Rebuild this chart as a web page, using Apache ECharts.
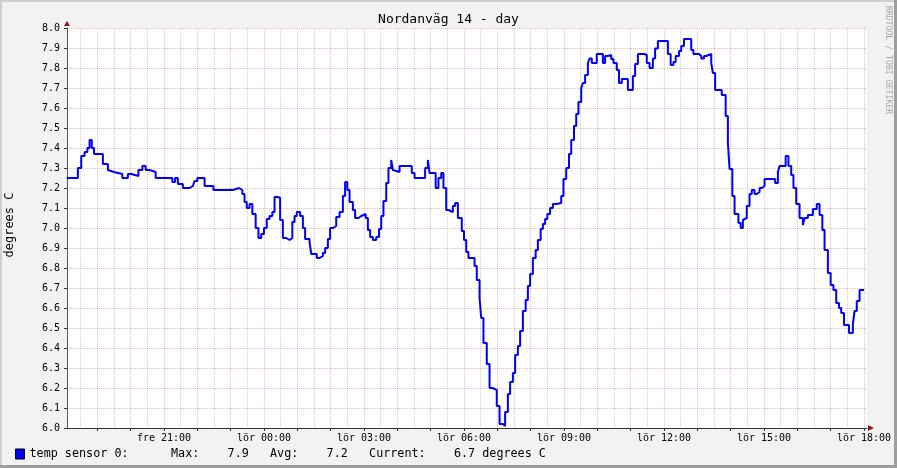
<!DOCTYPE html>
<html><head><meta charset="utf-8">
<script src="https://cdn.jsdelivr.net/npm/echarts@6/dist/echarts.min.js"></script>
<style>html,body{margin:0;padding:0;background:#f2f2f2;}#c{width:897px;height:468px;}</style>
</head><body><div id="c"></div>
<script>
const chartTitle = 'Nordanväg 14 - day';
const seriesName = 'temp sensor 0:';
const legendStats = '      Max:    7.9   Avg:    7.2   Current:    6.7 degrees C';
const yName = 'degrees C';
const watermark = 'RRDTOOL / TOBI OETIKER';
const xTickLabels = ['fre 21:00','lör 00:00','lör 03:00','lör 06:00','lör 09:00','lör 12:00','lör 15:00','lör 18:00'];
// minutes since fre 18:00
const minutes = [5,25,31,37,42,46,50,54,70,79,82,90,105,115,121,134,141,147,154,165,181,184,195,200,205,214,226,232,235,240,253,269,304,315,321,325,329,334,339,345,
350,355,360,365,370,375,379,385,389,394,400,406,411,415,419,425,430,434,442,445,455,460,466,470,475,479,484,490,496,502,506,510,514,520,524,530,535,543,547,551,556,562,567,571,575,580,584,589,592,595,604,626,631,650,655,658,669,674,679,683,688,692,700,704,709,716,720,724,728,739,743,748,751,755,761,766,771,779,784,790,794,799,803,808,812,817,821,826,831,835,839,844,849,853,858,
862,866,870,875,880,886,895,899,904,909,913,918,922,926,931,934,938,943,946,950,959,970,974,979,985,989,995,999,1004,1015,1024,1028,1033,1045,1049,1054,1060,1064,1069,1087,1092,1097,1101,1107,1111,1116,1129,1133,1143,1147,1152,1156,1165,1168,1172,1184,1191,1195,1198,1203,1207,1214,1218,1222,1225,1229,1234,1238,1243,1247,1252,1256,1261,1280,1285,1288,1299,1304,1309,1313,1318,1324,1330,1333,1339,1348,1355,1360,1365,1369,1375,1380,1385,1390,1395,1399,1404,1413,1420,1423,1427,1432,1440];
const temps = [7.25,7.30,7.36,7.38,7.40,7.44,7.40,7.37,7.32,7.29,7.28,7.27,7.25,7.27,7.26,7.29,7.31,7.29,7.28,7.25,7.26,7.25,7.23,7.25,7.22,7.20,7.21,7.20,7.235,7.25,7.21,7.19,7.20,7.19,7.17,7.13,7.10,7.12,7.07,7.00,
6.95,6.97,7.00,7.045,7.06,7.08,7.155,7.15,7.04,6.95,6.94,6.95,7.03,7.06,7.08,7.06,7.00,6.945,6.93,6.87,6.85,6.86,6.875,6.90,6.945,7.00,7.01,7.055,7.08,7.16,7.23,7.19,7.13,7.09,7.05,7.06,7.07,7.05,6.99,6.955,6.94,6.955,6.995,7.06,7.135,7.225,7.30,7.34,7.29,7.28,7.31,7.275,7.25,7.30,7.34,7.275,7.20,7.25,7.275,7.20,7.09,7.08,7.11,7.125,7.05,6.985,6.94,6.88,6.85,6.81,6.74,6.65,6.55,6.425,6.32,6.20,6.19,6.11,6.02,6.01,6.08,6.17,6.23,6.275,6.365,6.41,6.485,6.585,6.64,6.71,6.77,6.85,6.89,6.94,6.995,
7.02,7.045,7.07,7.10,7.12,7.125,7.16,7.245,7.30,7.37,7.44,7.51,7.57,7.63,7.70,7.725,7.765,7.825,7.847,7.825,7.87,7.825,7.86,7.865,7.845,7.825,7.79,7.725,7.745,7.69,7.76,7.82,7.87,7.865,7.825,7.80,7.847,7.897,7.935,7.87,7.815,7.83,7.86,7.885,7.91,7.945,7.89,7.87,7.86,7.847,7.86,7.87,7.825,7.775,7.69,7.665,7.56,7.425,7.295,7.16,7.07,7.025,7.00,7.04,7.05,7.11,7.17,7.19,7.17,7.18,7.20,7.21,7.245,7.225,7.28,7.31,7.36,7.31,7.265,7.20,7.12,7.05,7.015,7.05,7.065,7.095,7.12,7.065,6.99,6.89,6.775,6.715,6.69,6.625,6.60,6.575,6.515,6.475,6.52,6.585,6.635,6.69,6.69];

const MONO = 'DejaVu Sans Mono';
const data = minutes.map((m, i) => [m, temps[i]]);
const chart = echarts.init(document.getElementById('c'), null, {renderer: 'canvas'});
const majorGrid = 'rgba(222,79,79,0.4)';
const minorGrid = 'rgba(143,143,143,0.45)';
chart.setOption({
  animation: false,
  backgroundColor: '#f2f2f2',
  title: {text: chartTitle, left: 'center', top: 13, padding: 0, textStyle: {fontFamily: MONO, fontSize: 13, fontWeight: 'normal', color: '#000'}},
  legend: {left: 15, top: 448, padding: 0, itemWidth: 9, itemHeight: 10, icon: 'rect', itemGap: 5,
    itemStyle: {borderColor: '#000', borderWidth: 1},
    textStyle: {fontFamily: MONO, fontSize: 11.75, color: '#000'},
    formatter: n => n + legendStats, data: [seriesName]},
  grid: [
    {left: 67, top: 28, width: 800, height: 400, show: true, backgroundColor: '#fff', borderWidth: 0},
    {left: 64, top: 28, width: 800, height: 400}
  ],
  xAxis: [
    {gridIndex: 0, type: 'value', min: 0, max: 1, axisLine: {show: true, lineStyle: {color: '#333', width: 1}},
     axisTick: {show: false}, axisLabel: {show: false}, splitLine: {show: false}},
    {gridIndex: 1, type: 'value', min: 0, max: 1440, interval: 60,
     axisLine: {show: false},
     axisTick: {show: true, length: 3, lineStyle: {color: '#333'}},
     axisLabel: {show: true, showMinLabel: false, margin: 5, fontFamily: MONO, fontSize: 10, color: '#000',
       formatter: v => (v % 180 === 0 && v > 0) ? xTickLabels[v / 180 - 1] : ''},
     splitLine: {show: true, showMinLine: false, lineStyle: {color: majorGrid, type: [1, 1], width: 1}},
     minorTick: {show: false, splitNumber: 2},
     minorSplitLine: {show: true, lineStyle: {color: minorGrid, type: [1, 1], width: 1}}}
  ],
  yAxis: [
    {gridIndex: 0, type: 'value', min: 6, max: 8, interval: 0.1,
     axisLine: {show: true, lineStyle: {color: '#555', width: 1}},
     axisTick: {show: true, length: 3, lineStyle: {color: '#333'}},
     axisLabel: {margin: 7, fontFamily: MONO, fontSize: 10, color: '#000', formatter: v => v.toFixed(1)},
     splitLine: {show: true, lineStyle: {color: majorGrid, type: [1, 1], width: 1}}},
    {gridIndex: 1, type: 'value', min: 6, max: 8, show: false, splitLine: {show: false}}
  ],
  series: [{
    name: seriesName, type: 'line', xAxisIndex: 1, yAxisIndex: 1, step: 'end',
    showSymbol: false, data: data,
    lineStyle: {color: '#0000ff', width: 2}, itemStyle: {color: '#0000ff'}
  }],
  graphic: [
    {type: 'rect', shape: {x: 0, y: 0, width: 897, height: 2}, style: {fill: '#cfcfcf'}, silent: true},
    {type: 'rect', shape: {x: 0, y: 0, width: 2, height: 468}, style: {fill: '#cfcfcf'}, silent: true},
    {type: 'rect', shape: {x: 0, y: 465, width: 897, height: 3}, style: {fill: '#9e9e9e'}, silent: true},
    {type: 'rect', shape: {x: 894, y: 0, width: 3, height: 468}, style: {fill: '#9e9e9e'}, silent: true},
    {type: 'polygon', shape: {points: [[64, 26], [70, 26], [67, 21]]}, style: {fill: '#801f1f'}, silent: true},
    {type: 'polygon', shape: {points: [[868, 425], [868, 431], [874, 428]]}, style: {fill: '#801f1f'}, silent: true},
    {type: 'text', x: 10, y: 225, rotation: Math.PI / 2,
     style: {text: yName, font: '12px "DejaVu Sans Mono"', fill: '#000', align: 'center', verticalAlign: 'middle'}},
    {type: 'text', x: 888, y: 60, rotation: -Math.PI / 2,
     style: {text: watermark, font: '8.2px "DejaVu Sans Mono"', fill: '#a8a8a8', align: 'center', verticalAlign: 'middle'}}
  ]
});
</script>
</body></html>
